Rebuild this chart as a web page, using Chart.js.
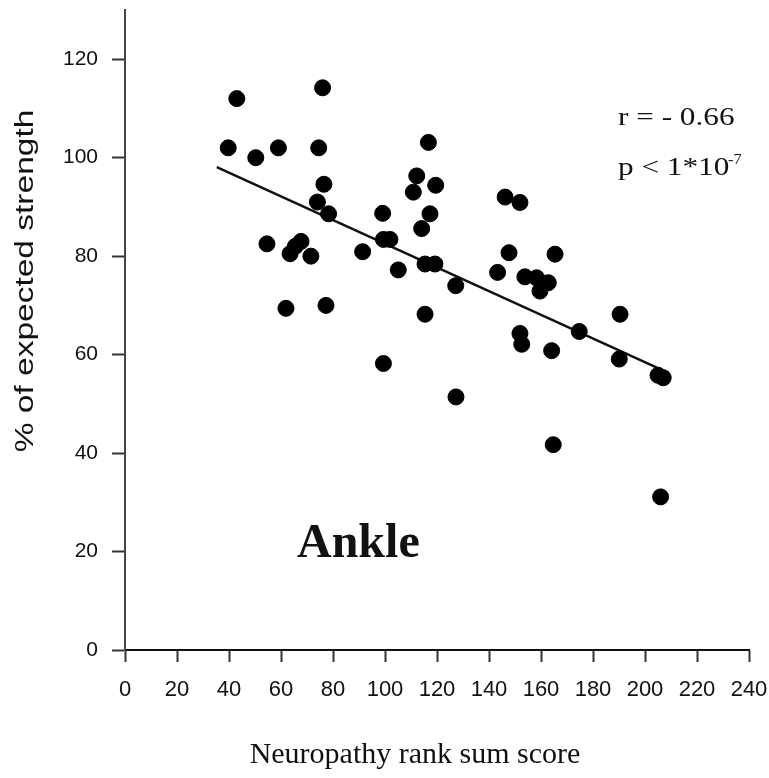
<!DOCTYPE html>
<html>
<head>
<meta charset="utf-8">
<script src="https://cdn.jsdelivr.net/npm/chart.js@4.4.0/dist/chart.umd.min.js"></script>
<style>
html, body { margin: 0; padding: 0; background: #fff; }
canvas { display: block; }
</style>
</head>
<body>
<canvas id="ankle" width="769" height="778"></canvas>
<script>
// values
const rankScore = [39.7, 43, 50.3, 54.6, 59, 61.9, 63.5, 65.5, 67.7, 71.5,
                   74, 74.5, 76, 76.5, 77.3, 78.3, 91.4, 99.1, 99.4, 101.9,
                   99.4, 105.1, 110.9, 112.2, 114.1, 115.4, 115.4, 116.7, 117.3, 119.2,
                   119.5, 127.2, 127.3, 143.3, 146.2, 147.7, 151.9, 151.9, 152.6, 153.8,
                   158.3, 159.6, 162.8, 164.1, 164.7, 165.4, 174.7, 190.1, 190.4, 205,
                   207, 206];
const strength = [102, 112, 100, 82.5, 102, 69.4, 80.5, 82, 83, 80,
                  91, 102, 114.2, 94.6, 70, 88.6, 80.9, 88.7, 83.4, 83.4,
                  58.2, 77.2, 93, 96.3, 85.6, 78.4, 68.2, 103.1, 88.6, 78.4,
                  94.4, 74, 51.4, 76.7, 92, 80.7, 90.9, 64.3, 62.1, 75.8,
                  75.6, 72.9, 74.6, 60.8, 41.7, 80.4, 64.7, 59.1, 68.2, 55.8,
                  55.3, 31.1];
const fitX = [35.3, 209];
const fitY = [98.1, 56.3];
const xTicks = [0, 20, 40, 60, 80, 100, 120, 140, 160, 180, 200, 220, 240];
const yTicks = [0, 20, 40, 60, 80, 100, 120];

const xTitle = "Neuropathy rank sum score";
const yTitle = "% of expected strength";
const panelLabel = "Ankle";
const rText = "r = - 0.66";
const pText = "p < 1*10";
const pExp = "-7";

function drawStretched(ctx, str, x, y, font, sx, align) {
    ctx.save();
    ctx.translate(x, y);
    ctx.scale(sx, 1);
    ctx.font = font;
    ctx.textAlign = align || 'left';
    ctx.textBaseline = 'alphabetic';
    ctx.fillText(str, 0, 0);
    ctx.restore();
}

const textPlugin = {
    id: 'figText',
    afterDraw(chart) {
        const ctx = chart.ctx;
        ctx.save();
        ctx.fillStyle = '#111';

        // y axis title, rotated
        ctx.save();
        ctx.translate(26, 281);
        ctx.rotate(-Math.PI / 2);
        ctx.scale(1.34, 1);
        ctx.font = '25px "Liberation Sans"';
        ctx.textAlign = 'center';
        ctx.textBaseline = 'middle';
        ctx.fillText(yTitle, 0, 0);
        ctx.restore();

        // x axis title
        drawStretched(ctx, xTitle, 415, 763, '30px "Liberation Serif"', 1, 'center');

        // panel label
        drawStretched(ctx, panelLabel, 297, 557, 'bold 48px "Liberation Serif"', 1);

        // stats
        drawStretched(ctx, rText, 618, 125, '25px "Liberation Serif"', 1.25);
        drawStretched(ctx, pText, 618, 175, '25px "Liberation Serif"', 1.25);
        drawStretched(ctx, pExp, 728, 164, '15px "Liberation Serif"', 1.1);
        ctx.restore();
    }
};

Chart.defaults.color = '#111';
Chart.defaults.font.family = '"Liberation Sans", Arial, sans-serif';

const ctx = document.getElementById('ankle');
const chart = new Chart(ctx, {
    type: 'scatter',
    data: {
        datasets: [
            {
                label: 'patients',
                data: rankScore.map((x, i) => ({x: x, y: strength[i]})),
                backgroundColor: '#000',
                borderColor: '#000',
                pointRadius: 8,
                pointHoverRadius: 8
            },
            {
                label: 'fit',
                data: fitX.map((x, i) => ({x: x, y: fitY[i]})),
                showLine: true,
                borderColor: '#111',
                borderWidth: 2.5,
                pointRadius: 0,
                fill: false
            }
        ]
    },
    options: {
        responsive: false,
        animation: false,
        layout: {
            padding: {top: 10, right: 20, left: 0, bottom: 0}
        },
        plugins: {
            legend: {display: false},
            tooltip: {enabled: false}
        },
        scales: {
            x: {
                type: 'linear',
                min: 0,
                max: 240,
                afterBuildTicks: (scale) => { scale.ticks = xTicks.map(v => ({value: v})); },
                afterFit: (scale) => {
                    scale.height = 128;
                    scale.paddingLeft = 0;
                    scale.paddingRight = 0;
                },
                grid: {
                    drawOnChartArea: false,
                    drawTicks: true,
                    tickLength: 12,
                    tickWidth: 2,
                    tickColor: '#333'
                },
                border: {display: true, color: '#111', width: 2},
                ticks: {
                    padding: 15,
                    maxRotation: 0,
                    font: {size: 22}
                }
            },
            y: {
                type: 'linear',
                min: 0,
                max: 130,
                afterBuildTicks: (scale) => { scale.ticks = yTicks.map(v => ({value: v})); },
                afterFit: (scale) => {
                    scale.width = 125;
                    scale.paddingTop = 0;
                    scale.paddingBottom = 0;
                },
                grid: {
                    drawOnChartArea: false,
                    drawTicks: true,
                    tickLength: 13,
                    tickWidth: 2,
                    tickColor: '#333'
                },
                border: {display: true, color: '#444', width: 2},
                ticks: {
                    padding: 14,
                    font: {size: 21}
                }
            }
        }
    },
    plugins: [textPlugin]
});
</script>
</body>
</html>
